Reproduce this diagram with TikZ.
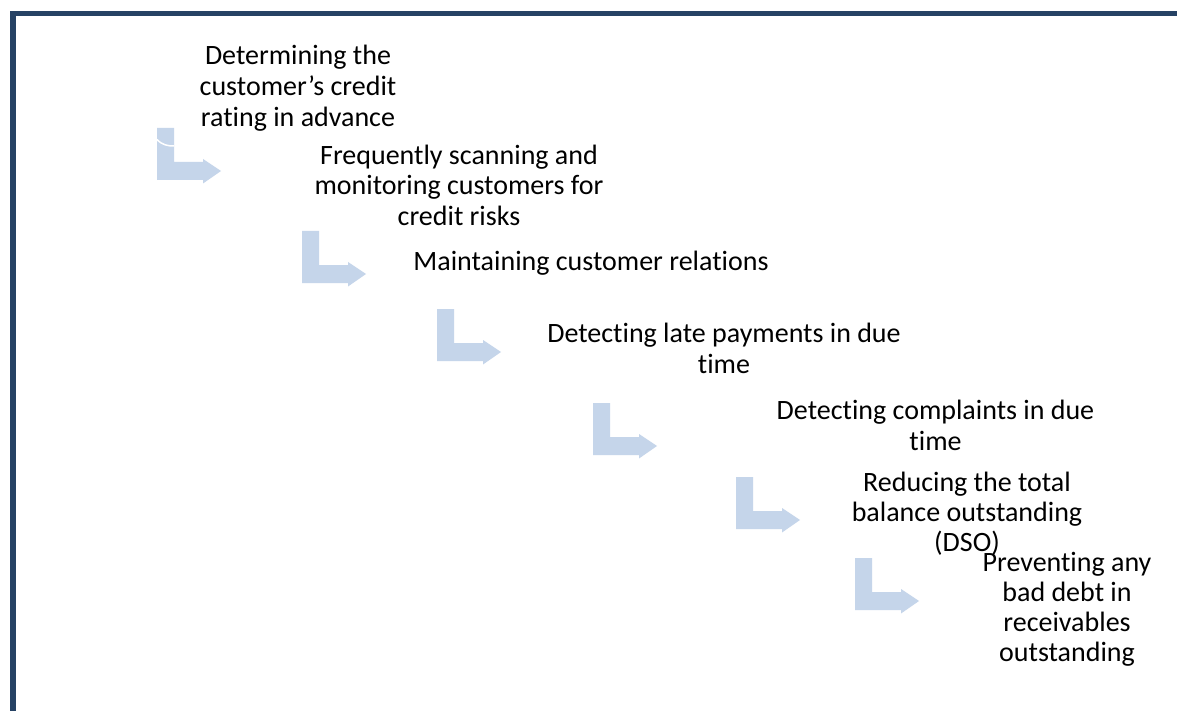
\documentclass[tikz,border=0pt]{standalone}
\usepackage{fontspec}
\setmainfont{Carlito}[Ligatures={NoCommon}]
\definecolor{framenavy}{RGB}{38,66,100}
\definecolor{arrowblue}{RGB}{197,213,234}
\begin{document}
\begin{tikzpicture}[x=1pt,y=-1pt,
  lbl/.style={anchor=base,align=center,inner sep=0pt,font=\fontsize{28}{31}\selectfont,text=black},
  tight/.style={font=\fontsize{28}{30}\selectfont},
  bentarr/.pic={
    \fill[arrowblue] (0,0) -- (17,0) -- (17,34) -- (46,34) -- (46,31) -- (64,43) -- (46,55.5) -- (46,52) -- (0,52) -- cycle;
  }]
\useasboundingbox (0,0) rectangle (1177,711);
\fill[white] (0,0) rectangle (1177,711);
% frame
\fill[framenavy] (10,11) rectangle (1177,16.5);
\fill[framenavy] (10,11) rectangle (15.5,711);
% bent arrows
\pic at (157,128) {bentarr};
\draw[white,line width=1.5pt] (157,139.5) .. controls (162,145) and (168,146) .. (174,146);
\pic at (302,231) {bentarr};
\pic at (437,309) {bentarr};
\pic at (593,403) {bentarr};
\pic at (736,477) {bentarr};
\pic at (855,558) {bentarr};
% labels (anchor = baseline of the last line)
\node[lbl] (t1) at (298,126.7) {Determining the\\customer’s credit\\rating in advance};
\node[lbl] (t2) at (459,226) {Frequently scanning and\\monitoring customers for\\credit risks};
\node[lbl] (t3) at (591,270) {Maintaining customer relations};
\node[lbl] (t4) at (724,373) {Detecting late payments in due\\time};
\node[lbl] (t5) at (935.5,450) {Detecting complaints in due\\time};
\node[lbl,tight] (t6) at (967,551.7) {Reducing the total\\balance outstanding\\(DSO)};
\node[lbl,tight] (t7) at (1067,661.7) {Preventing any\\bad debt in\\receivables\\outstanding};
\end{tikzpicture}
\end{document}
